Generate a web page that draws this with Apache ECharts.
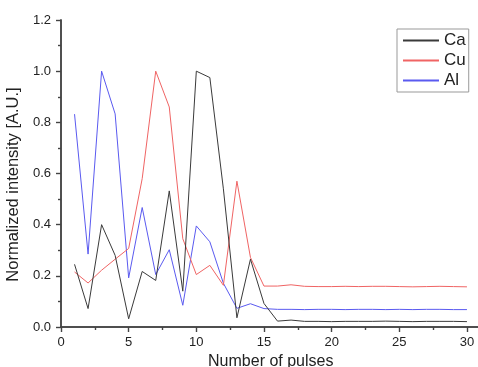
<!DOCTYPE html>
<html>
<head>
<meta charset="utf-8">
<script src="https://cdn.jsdelivr.net/npm/echarts@6/dist/echarts.min.js"></script>
<style>html,body{margin:0;padding:0;background:#fff;}#c{width:478px;height:367px;}</style>
</head>
<body>
<div id="c"></div>
<script>
var pulses = [1,2,3,4,5,6,7,8,9,10,11,12,13,14,15,16,17,18,19,20,21,22,23,24,25,26,27,28,29,30];
var ca = [0.245,0.072,0.40,0.28,0.032,0.217,0.182,0.532,0.14,1.0,0.975,0.54,0.036,0.265,0.092,0.023,0.027,0.022,0.022,0.021,0.022,0.022,0.022,0.023,0.022,0.021,0.022,0.022,0.022,0.021];
var cu = [0.215,0.172,0.222,0.265,0.307,0.58,1.0,0.86,0.345,0.205,0.241,0.163,0.57,0.272,0.16,0.16,0.165,0.159,0.158,0.158,0.159,0.158,0.159,0.159,0.158,0.157,0.158,0.159,0.158,0.157];
var al = [0.832,0.285,1.0,0.833,0.192,0.467,0.205,0.302,0.085,0.395,0.333,0.171,0.073,0.091,0.072,0.069,0.069,0.068,0.069,0.069,0.068,0.069,0.069,0.068,0.069,0.068,0.069,0.069,0.068,0.068];
var seriesNames = ['Ca','Cu','Al'];
var xTickMax = 30;

function pairs(v){ return pulses.map(function(p,i){ return [p, v[i]]; }); }

var axisCol = '#444';
var chart = echarts.init(document.getElementById('c'));
chart.setOption({
  animation: false,
  backgroundColor: '#fff',
  textStyle: {fontFamily: 'Liberation Sans, Arial, sans-serif'},
  grid: {left: 61, top: 20, right: -2.5, bottom: 40, containLabel: false, outerBoundsMode: 'none'},
  legend: {
    orient: 'vertical', left: 397, top: 29,
    padding: [3, 3, 3, 5], itemGap: 3, itemWidth: 36, itemHeight: 14, itemTextGap: 6,
    borderColor: '#999', borderWidth: 1, backgroundColor: '#fff',
    itemStyle: {opacity: 0},
    textStyle: {fontSize: 17, color: '#222'},
    data: seriesNames
  },
  xAxis: [{
    type: 'value', min: 0, max: 31, interval: 5, position: 'bottom',
    name: 'Number of pulses', nameLocation: 'middle', nameGap: 22,
    nameTextStyle: {fontSize: 16, color: '#222'},
    axisLine: {lineStyle: {color: axisCol, width: 1.5}},
    axisTick: {inside: false, length: 5, lineStyle: {color: axisCol, width: 1.2}},
    minorTick: {show: true, splitNumber: 2, length: 3, lineStyle: {color: axisCol, width: 1.2}},
    axisLabel: {fontSize: 13, color: '#222', margin: 9, formatter: function(v){ return v > xTickMax ? '' : String(v); }},
    splitLine: {show: false}
  },{
    type: 'value', min: 0, max: 31, interval: 5, position: 'top',
    axisLine: {lineStyle: {color: axisCol, width: 1.5}},
    axisTick: {inside: true, length: 5, lineStyle: {color: axisCol, width: 1.2}},
    minorTick: {show: true, splitNumber: 2, length: 3, lineStyle: {color: axisCol, width: 1.2}},
    axisLabel: {show: false},
    splitLine: {show: false}
  }],
  yAxis: [{
    type: 'value', min: 0, max: 1.2, interval: 0.2, position: 'left',
    name: 'Normalized intensity [A.U.]', nameLocation: 'middle', nameGap: 33,
    nameTextStyle: {fontSize: 16.5, color: '#222', padding: [0, 22, 0, 0]},
    axisLine: {show: true, lineStyle: {color: axisCol, width: 1.5}},
    axisTick: {show: true, inside: false, length: 5, lineStyle: {color: axisCol, width: 1.2}},
    minorTick: {show: true, splitNumber: 2, length: 3, lineStyle: {color: axisCol, width: 1.2}},
    axisLabel: {fontSize: 13, color: '#222', margin: 10, formatter: function(v){ return v.toFixed(1); }},
    splitLine: {show: false}
  },{
    type: 'value', min: 0, max: 1.2, interval: 0.2, position: 'right',
    axisLine: {show: true, lineStyle: {color: axisCol, width: 1.5}},
    axisTick: {show: true, inside: true, length: 5, lineStyle: {color: axisCol, width: 1.2}},
    minorTick: {show: true, splitNumber: 2, length: 3, lineStyle: {color: axisCol, width: 1.2}},
    axisLabel: {show: false},
    splitLine: {show: false}
  }],
  series: [
    {name: 'Ca', type: 'line', data: pairs(ca), symbol: 'none', lineStyle: {color: '#3a3a3a', width: 1}, itemStyle: {color: '#3a3a3a'}, z: 3},
    {name: 'Cu', type: 'line', data: pairs(cu), symbol: 'none', lineStyle: {color: '#f06464', width: 1}, itemStyle: {color: '#f06464'}, z: 2},
    {name: 'Al', type: 'line', data: pairs(al), symbol: 'none', lineStyle: {color: '#5a5af0', width: 1}, itemStyle: {color: '#5a5af0'}, z: 1}
  ]
});
</script>
</body>
</html>
